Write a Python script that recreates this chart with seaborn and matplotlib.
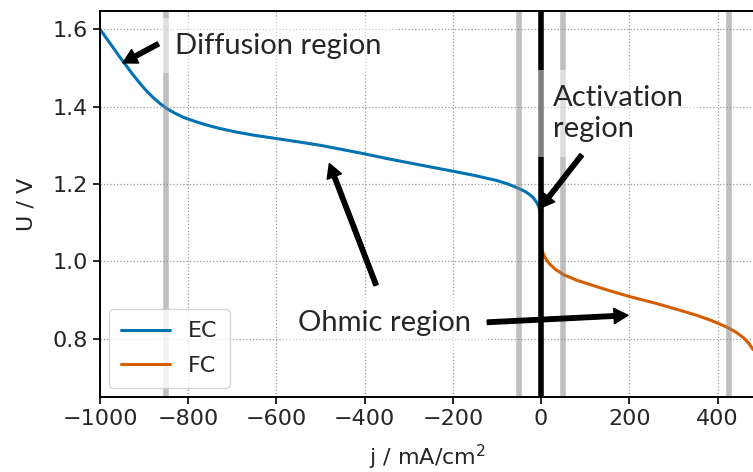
import matplotlib
matplotlib.use("Agg")
import matplotlib.pyplot as plt
import seaborn as sns
import pandas as pd

# Polarisation curves: electrolysis (EC, negative current) and fuel cell (FC)
ec_j = [-1000, -985, -970, -955, -940, -925, -910, -895, -880, -865, -850,
        -830, -810, -785, -760, -730, -694, -650, -603, -550, -500, -450,
        -400, -350, -300, -250, -199, -150, -100, -75, -51, -35, -25, -18,
        -10, -5, -2, 0]
ec_u = [1.600, 1.576, 1.552, 1.528, 1.505, 1.482, 1.461, 1.441, 1.424, 1.409,
        1.396, 1.383, 1.372, 1.362, 1.353, 1.344, 1.335, 1.326, 1.318, 1.309,
        1.300, 1.289, 1.278, 1.266, 1.255, 1.244, 1.233, 1.222, 1.209, 1.200,
        1.189, 1.180, 1.172, 1.165, 1.153, 1.141, 1.128, 1.115]

fc_j = [1, 3, 6, 9, 13, 20, 32, 51, 80, 126, 160, 202, 260, 315, 350, 383,
        410, 429, 445, 459, 470, 481]
fc_u = [1.035, 1.026, 1.018, 1.011, 1.003, 0.993, 0.980, 0.966, 0.952, 0.935,
        0.923, 0.909, 0.892, 0.874, 0.862, 0.849, 0.836, 0.826, 0.815, 0.803,
        0.790, 0.772]

# Region boundaries (grey) and the open-circuit line (black)
boundaries = [-850, -50, 50, 425]
ocv_j = 0

df = pd.concat([
    pd.DataFrame({"j": ec_j, "U": ec_u, "mode": "EC"}),
    pd.DataFrame({"j": fc_j, "U": fc_u, "mode": "FC"}),
], ignore_index=True)

sns.set_style("ticks")
plt.rcParams["font.family"] = ["DejaVu Sans"]
plt.rcParams["font.sans-serif"] = ["DejaVu Sans"]

fig = plt.figure(figsize=(7.53, 4.72), dpi=100)
ax = fig.add_axes([100 / 753, 75 / 472, 655 / 753, 386 / 472])

sns.lineplot(data=df, x="j", y="U", hue="mode",
             palette={"EC": "#0072B2", "FC": "#D55E00"},
             estimator=None, sort=False, linewidth=2.2, ax=ax)

for b in boundaries:
    ax.axvline(b, color="grey", alpha=0.5, linewidth=4, zorder=2.5)
ax.axvline(ocv_j, color="black", linewidth=4, zorder=2.6)

ax.set_xlim(-1000, 485)
ax.set_ylim(0.65, 1.647)
ax.set_xticks([-1000, -800, -600, -400, -200, 0, 200, 400])
ax.set_yticks([0.8, 1.0, 1.2, 1.4, 1.6])
ax.grid(True, linestyle=":", color="#9a9a9a", linewidth=0.9)
ax.tick_params(labelsize=16, length=5, width=1.2, color="black")
for s in ax.spines.values():
    s.set_color("black")
    s.set_linewidth(1.4)
ax.set_xlabel("j / mA/cm$^2$", fontsize=16, labelpad=10)
ax.set_ylabel("U / V", fontsize=16, labelpad=12)

leg = ax.legend(loc="lower left", fontsize=16, framealpha=0.8,
                borderaxespad=0.4, handlelength=2.2, labelspacing=0.65,
                borderpad=0.55)
leg.set_title(None)

# Region labels with half-transparent white boxes
txt_font = dict(fontsize=21, family=["Lato", "DejaVu Sans"])
box = dict(boxstyle="square,pad=0.5", facecolor="white", edgecolor="none", alpha=0.5)
ax.text(-830, 1.557, "Diffusion region", ha="left", va="center",
        bbox=box, zorder=4, **txt_font)
ax.text(27, 1.382, "Activation\nregion", ha="left", va="center",
        bbox=box, linespacing=1.27, zorder=4, **txt_font)
ax.text(-551, 0.840, "Ohmic region", ha="left", va="center",
        bbox=box, zorder=4, **txt_font)

# Arrows pointing from the labels to the regions
arrow = dict(facecolor="black", edgecolor="black", width=3.2, headwidth=11,
             headlength=10, shrink=0.0)
arrows_tail = [(-868, 1.562), (92, 1.275), (-374, 0.939), (-122, 0.843)]
arrows_tip = [(-948, 1.513), (-2, 1.138), (-480, 1.253), (197, 0.861)]
for tail, tip in zip(arrows_tail, arrows_tip):
    ax.annotate("", xy=tip, xytext=tail, arrowprops=arrow, zorder=4.5)

fig.savefig("out.png", dpi=100)
